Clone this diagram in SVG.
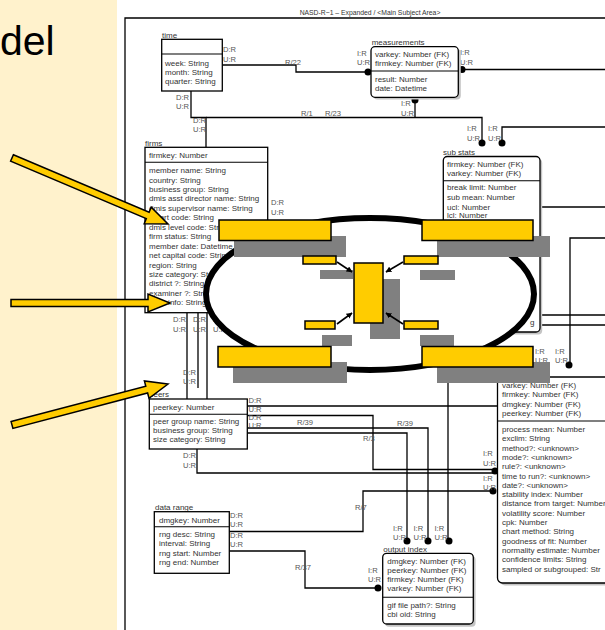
<svg xmlns="http://www.w3.org/2000/svg" width="605" height="630" viewBox="0 0 605 630">
<defs>
<style>
.t{font-family:"Liberation Sans",Arial,sans-serif;font-size:8px;fill:#333}
.lb{font-family:"Liberation Sans",Arial,sans-serif;font-size:7.6px;fill:#555}
.box{fill:#fff;stroke:#000;stroke-width:1.3}
.sh{fill:#c4c4c4}
.c{fill:none;stroke:#000;stroke-width:1.3}
.dv{stroke:#000;stroke-width:1.1}
.dot{fill:#000}
.y{fill:#FFCC00;stroke:#000;stroke-width:1.5}
.g{fill:#808080}
.ar{stroke:#000;stroke-width:1.6;fill:none;marker-end:url(#ah)}
</style>
<marker id="ah" viewBox="0 0 10 10" refX="9" refY="5" markerWidth="6" markerHeight="6" orient="auto" markerUnits="userSpaceOnUse">
<path d="M0,0 L10,5 L0,10 z" fill="#000"/>
</marker>
</defs>
<rect x="0" y="0" width="605" height="630" fill="#fff"/>
<rect x="0" y="0" width="117" height="630" fill="#FFF2CC"/>
<text x="0" y="55" font-family="'Liberation Sans',Arial,sans-serif" font-size="41" fill="#000">del</text>

<g id="frame">
<polyline class="c" points="125,630 125,18 605,18"/>
<text x="370" y="15" text-anchor="middle" font-family="'Liberation Sans',Arial,sans-serif" font-size="6.8" fill="#333">NASD-R~1 – Expanded / &lt;Main Subject Area&gt;</text>
</g>

<g id="connectors">
<polyline class="c" points="222,65 296,65 296,72 368,72"/>
<polyline class="c" points="462,69.5 605,69.5"/>
<polyline class="c" points="191,91 191,117.5 206,117.5 206,147"/>
<polyline class="c" points="206,117.5 482,117.5 482,143"/>
<polyline class="c" points="415,100 415,117.5"/>
<polyline class="c" points="502,143 502,127 605,127"/>
<polyline class="c" points="540,207 605,207"/>
<polyline class="c" points="605,238 570,238 570,365"/>
<polyline class="c" points="540,315 605,315"/>
<polyline class="c" points="540,325 605,325"/>
<polyline class="c" points="187,313 187,399"/>
<polyline class="c" points="198,313 198,388"/>
<polyline class="c" points="207,313 207,399"/>
<polyline class="c" points="247,406 497,406"/>
<polyline class="c" points="247,415.5 373,415.5 373,469.5 495,469.5"/>
<polyline class="c" points="247,428 428,428 428,540"/>
<polyline class="c" points="247,433 407,433 407,540"/>
<polyline class="c" points="448,383 448,540"/>
<polyline class="c" points="197,449 197,473 495,473"/>
<polyline class="c" points="229,531.5 363,531.5 363,491 493,491"/>
<polyline class="c" points="229,551 305,551 305,588 378,588"/>
<circle class="dot" cx="368" cy="72" r="3.5"/>
<circle class="dot" cx="462" cy="69.5" r="3.5"/>
<circle class="dot" cx="415" cy="100" r="3.5"/>
<circle class="dot" cx="482" cy="143" r="3.5"/>
<circle class="dot" cx="502" cy="143" r="3.5"/>
<circle class="dot" cx="569" cy="365" r="3.5"/>
<circle class="dot" cx="495" cy="471" r="3.5"/>
<circle class="dot" cx="493" cy="491" r="3.5"/>
<circle class="dot" cx="407" cy="541" r="3.5"/>
<circle class="dot" cx="428" cy="541" r="3.5"/>
<circle class="dot" cx="449" cy="541" r="3.5"/>
<circle class="dot" cx="378" cy="588" r="3.5"/>
<text class="lb" x="285" y="65">R/22</text>
<text class="lb" x="301" y="115.5">R/1</text>
<text class="lb" x="325" y="115.5">R/23</text>
<text class="lb" x="297" y="425">R/39</text>
<text class="lb" x="397" y="426">R/39</text>
<text class="lb" x="363" y="441">R/3</text>
<text class="lb" x="355" y="509.5">R/7</text>
<text class="lb" x="295" y="569.5">R/37</text>
<text class="lb" x="223" y="52">D:R</text>
<text class="lb" x="223" y="61.5">U:R</text>
<text class="lb" x="176" y="99.5">D:R</text>
<text class="lb" x="176" y="109">U:R</text>
<text class="lb" x="193" y="122.5">D:R</text>
<text class="lb" x="193" y="132">U:R</text>
<text class="lb" x="357" y="55.5">I:R</text>
<text class="lb" x="357" y="65">U:R</text>
<text class="lb" x="460" y="55">I:R</text>
<text class="lb" x="460" y="64.5">U:R</text>
<text class="lb" x="401" y="106">I:R</text>
<text class="lb" x="401" y="115.5">U:R</text>
<text class="lb" x="467" y="131">I:R</text>
<text class="lb" x="467" y="140.5">U:R</text>
<text class="lb" x="488" y="131">I:R</text>
<text class="lb" x="488" y="140.5">U:R</text>
<text class="lb" x="271" y="204.5">D:R</text>
<text class="lb" x="271" y="214.5">U:R</text>
<text class="lb" x="173" y="322">D:R</text>
<text class="lb" x="173" y="331.5">U:R</text>
<text class="lb" x="193" y="322">D:R</text>
<text class="lb" x="193" y="331.5">U:R</text>
<text class="lb" x="213" y="322">D:R</text>
<text class="lb" x="213" y="331.5">U:R</text>
<text class="lb" x="183" y="374.5">D:R</text>
<text class="lb" x="183" y="384">U:R</text>
<text class="lb" x="248.5" y="402.5">D:R</text>
<text class="lb" x="248.5" y="412">U:R</text>
<text class="lb" x="248.5" y="420">D:R</text>
<text class="lb" x="248.5" y="427.5">U:R</text>
<text class="lb" x="183" y="458">D:R</text>
<text class="lb" x="183" y="468">U:R</text>
<text class="lb" x="230" y="518">D:R</text>
<text class="lb" x="230" y="527">U:R</text>
<text class="lb" x="230" y="537.5">D:R</text>
<text class="lb" x="230" y="547">U:R</text>
<text class="lb" x="483" y="456">I:R</text>
<text class="lb" x="483" y="466">U:R</text>
<text class="lb" x="483" y="481">I:R</text>
<text class="lb" x="483" y="489.5">U:R</text>
<text class="lb" x="393" y="531">I:R</text>
<text class="lb" x="393" y="539.5">U:R</text>
<text class="lb" x="413.5" y="531">I:R</text>
<text class="lb" x="413.5" y="539.5">U:R</text>
<text class="lb" x="434.5" y="531">I:R</text>
<text class="lb" x="434.5" y="539.5">U:R</text>
<text class="lb" x="368" y="573">I:R</text>
<text class="lb" x="368" y="581.5">U:R</text>
<text class="lb" x="535" y="353.5">I:R</text>
<text class="lb" x="535" y="362.5">U:R</text>
<text class="lb" x="555" y="353.5">I:R</text>
<text class="lb" x="555" y="362.5">U:R</text>
</g>

<g id="time">
<text class="t" x="162" y="37.5">time</text>
<rect class="box" x="161.7" y="39.3" width="60.6" height="51.7" stroke-width="1.6"/>
<line class="dv" x1="161.7" y1="54" x2="222.3" y2="54"/>
<text class="t" x="165" y="65.5">week: String</text>
<text class="t" x="165" y="75">month: String</text>
<text class="t" x="165" y="84">quarter: String</text>
</g>

<g id="measurements">
<text class="t" x="371.7" y="45">measurements</text>
<rect class="sh" x="373.5" y="49" width="87.3" height="50.6" rx="4"/>
<rect class="box" x="371" y="46.7" width="87.3" height="50.6" rx="4"/>
<line class="dv" x1="371" y1="71" x2="458.3" y2="71"/>
<text class="t" x="375" y="57">varkey: Number (FK)</text>
<text class="t" x="375" y="66">firmkey: Number (FK)</text>
<text class="t" x="375" y="82">result: Number</text>
<text class="t" x="375" y="91">date: Datetime</text>
</g>

<g id="firms">
<text class="t" x="145" y="145.5">firms</text>
<rect class="box" x="145" y="147.3" width="122.7" height="165.4"/>
<line class="dv" x1="145" y1="162.3" x2="267.7" y2="162.3"/>
<text class="t" x="149" y="158">firmkey: Number</text>
<text class="t" x="149" y="173">member name: String</text>
<text class="t" x="149" y="182.5">country: String</text>
<text class="t" x="149" y="191.9">business group: String</text>
<text class="t" x="149" y="201.4">dmis asst director name: String</text>
<text class="t" x="149" y="210.8">dmis supervisor name: String</text>
<text class="t" x="149" y="220.3">dstart code: String</text>
<text class="t" x="149" y="229.7">dmis level code: String</text>
<text class="t" x="149" y="239.2">firm status: String</text>
<text class="t" x="149" y="248.6">member date: Datetime</text>
<text class="t" x="149" y="258.1">net capital code: String</text>
<text class="t" x="149" y="267.5">region: String</text>
<text class="t" x="149" y="277">size category: String</text>
<text class="t" x="149" y="286.4">district ?: String</text>
<text class="t" x="149" y="295.9">examiner ?: String</text>
<text class="t" x="149" y="305.3">BCD info: String</text>
</g>

<g id="sub-stats">
<text class="t" x="443" y="154.5">sub stats</text>
<rect class="sh" x="445.5" y="159" width="96.7" height="175.5" rx="4"/>
<rect class="box" x="443.3" y="156.5" width="96.7" height="175.5" rx="4"/>
<line class="dv" x1="443.3" y1="180.7" x2="540" y2="180.7"/>
<text class="t" x="447" y="167">firmkey: Number (FK)</text>
<text class="t" x="447" y="175.5">varkey: Number (FK)</text>
<text class="t" x="447" y="190">break limit: Number</text>
<text class="t" x="447" y="199.5">sub mean: Number</text>
<text class="t" x="447" y="209.5">ucl: Number</text>
<text class="t" x="447" y="218">lcl: Number</text>
<text class="t" x="530" y="324.5">g</text>
</g>

<g id="peers">
<text class="t" x="149" y="397">peers</text>
<rect class="box" x="149.3" y="399" width="98" height="50"/>
<line class="dv" x1="149.3" y1="414.3" x2="247.3" y2="414.3"/>
<text class="t" x="153" y="409.5">peerkey: Number</text>
<text class="t" x="153" y="423.5">peer group name: String</text>
<text class="t" x="153" y="432.5">business group: String</text>
<text class="t" x="153" y="442">size category: String</text>
</g>

<g id="data-range">
<text class="t" x="155" y="509.5">data range</text>
<rect class="box" x="154.3" y="511.7" width="75" height="61.6"/>
<line class="dv" x1="154.3" y1="526.7" x2="229.3" y2="526.7"/>
<text class="t" x="159" y="523">dmgkey: Number</text>
<text class="t" x="159" y="536.5">rng desc: String</text>
<text class="t" x="159" y="546">interval: String</text>
<text class="t" x="159" y="555.5">rng start: Number</text>
<text class="t" x="159" y="565">rng end: Number</text>
</g>

<g id="output-index">
<text class="t" x="383.3" y="552">output index</text>
<rect class="sh" x="385" y="556" width="90.6" height="70.7" rx="4"/>
<rect class="box" x="382.7" y="553.3" width="90.6" height="70.7" rx="4"/>
<line class="dv" x1="382.7" y1="597.3" x2="473.3" y2="597.3"/>
<text class="t" x="387.3" y="563.5">dmgkey: Number (FK)</text>
<text class="t" x="387.3" y="573">peerkey: Number (FK)</text>
<text class="t" x="387.3" y="582">firmkey: Number (FK)</text>
<text class="t" x="387.3" y="591">varkey: Number (FK)</text>
<text class="t" x="387.3" y="608">gif file path?: String</text>
<text class="t" x="387.3" y="617">cbi oid: String</text>
</g>

<g id="process">
<rect class="sh" x="500" y="379.5" width="150" height="206" rx="5"/>
<rect class="box" x="497.5" y="377" width="150" height="206" rx="5"/>
<line class="dv" x1="497.5" y1="421" x2="647" y2="421"/>
<text class="t" x="502" y="388">varkey: Number (FK)</text>
<text class="t" x="502" y="397.3">firmkey: Number (FK)</text>
<text class="t" x="502" y="406.6">dmgkey: Number (FK)</text>
<text class="t" x="502" y="415.9">peerkey: Number (FK)</text>
<text class="t" x="502" y="432">process mean: Number</text>
<text class="t" x="502" y="441.3">exclim: String</text>
<text class="t" x="502" y="450.6">method?: &lt;unknown&gt;</text>
<text class="t" x="502" y="459.9">mode?: &lt;unknown&gt;</text>
<text class="t" x="502" y="469.2">rule?: &lt;unknown&gt;</text>
<text class="t" x="502" y="478.5">time to run?: &lt;unknown&gt;</text>
<text class="t" x="502" y="487.8">date?: &lt;unknown&gt;</text>
<text class="t" x="502" y="497.1">stability index: Number</text>
<text class="t" x="502" y="506.4">distance from target: Number</text>
<text class="t" x="502" y="515.7">volatility score: Number</text>
<text class="t" x="502" y="525">cpk: Number</text>
<text class="t" x="502" y="534.3">chart method: String</text>
<text class="t" x="502" y="543.6">goodness of fit: Number</text>
<text class="t" x="502" y="552.9">normality estimate: Number</text>
<text class="t" x="502" y="562.2">confidence limits: String</text>
<text class="t" x="502" y="571.5">sampled or subgrouped: Str</text>
</g>

<g id="overlay">
<ellipse cx="370" cy="294" rx="164" ry="76" fill="#fff" stroke="#000" stroke-width="6"/>
<rect class="g" x="234" y="236" width="112" height="21"/>
<rect class="g" x="437" y="236" width="113" height="21"/>
<rect class="g" x="233" y="362" width="114" height="21"/>
<rect class="g" x="437" y="362" width="113" height="21"/>
<rect class="g" x="320" y="270" width="33" height="9"/>
<rect class="g" x="420" y="270" width="35" height="10"/>
<rect class="g" x="322" y="335" width="30" height="11"/>
<rect class="g" x="420" y="335" width="34" height="11"/>
<rect class="g" x="370" y="279" width="30" height="60"/>
<rect class="y" x="219" y="220" width="112" height="20.5"/>
<rect class="y" x="422" y="220" width="111" height="20.5"/>
<rect class="y" x="218" y="346.5" width="113" height="20.5"/>
<rect class="y" x="422" y="346.5" width="111" height="20.5"/>
<rect class="y" x="303" y="256" width="33" height="8"/>
<rect class="y" x="404" y="256" width="34" height="8"/>
<rect class="y" x="305" y="321" width="30" height="8"/>
<rect class="y" x="404" y="321" width="34" height="8"/>
<rect class="y" x="354" y="263" width="29" height="60"/>
<line class="ar" x1="337" y1="262" x2="352" y2="272"/>
<line class="ar" x1="403" y1="262" x2="386" y2="272"/>
<line class="ar" x1="337" y1="324" x2="352" y2="313"/>
<line class="ar" x1="403" y1="324" x2="386" y2="313"/>
</g>

<g id="callouts">
<polygon class="y" points="13.4,154.8 149.1,212.2 151.2,207.1 168,224 144.2,223.7 146.3,218.6 10.6,161.2"/>
<polygon class="y" points="11,299.5 148,299.5 148,294 170,303 148,312 148,306.5 11,306.5"/>
<polygon class="y" points="11.1,421.6 145.8,386.2 144.4,380.9 168,384 149,398.3 147.6,393 12.9,428.4"/>
</g>
</svg>
